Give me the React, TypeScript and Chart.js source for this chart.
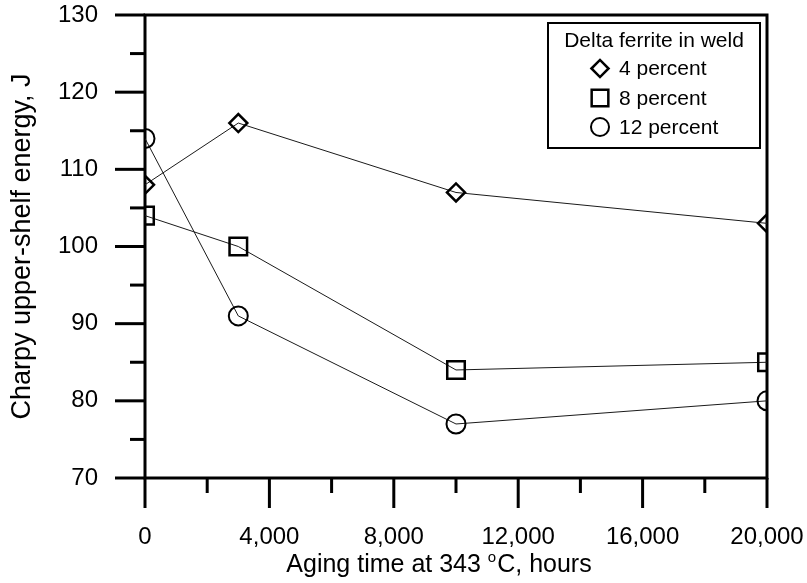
import React, { useEffect, useRef } from 'react';
import { Chart, registerables } from 'chart.js';

Chart.register(...registerables);

// Aging time (hours) and Charpy upper-shelf energy (J) per delta-ferrite level
const agingHours = [0, 3000, 10000, 20000];
const energy4 = [108, 116, 107, 103];
const energy8 = [104, 100, 84, 85];
const energy12 = [114, 91, 77, 80];
const seriesLabels = ['4 percent', '8 percent', '12 percent'];
const legendTitle = 'Delta ferrite in weld';

const xMajorTicks = [0, 4000, 8000, 12000, 16000, 20000];
const xTickLabels = ['0', '4,000', '8,000', '12,000', '16,000', '20,000'];
const xMinorTicks = [2000, 6000, 10000, 14000, 18000];
const yMajorTicks = [70, 80, 90, 100, 110, 120, 130];
const yMinorTicks = [75, 85, 95, 105, 115, 125];

const xTitleMain = 'Aging time at 343 ';
const xTitleSup = 'o';
const xTitleTail = 'C, hours';
const yTitle = 'Charpy upper-shelf energy, J';

const FONT = '"Liberation Sans", Arial, Helvetica, sans-serif';

function toPoints(values: number[]) {
  return agingHours.map((h, i) => ({ x: h, y: values[i] }));
}

function drawMarker(ctx: CanvasRenderingContext2D, style: string, cx: number, cy: number, r: number) {
  ctx.beginPath();
  if (style === 'rectRot') {
    ctx.moveTo(cx - r, cy);
    ctx.lineTo(cx, cy - r);
    ctx.lineTo(cx + r, cy);
    ctx.lineTo(cx, cy + r);
    ctx.closePath();
  } else if (style === 'rect') {
    const h = r * Math.SQRT1_2;
    ctx.rect(cx - h, cy - h, 2 * h, 2 * h);
  } else {
    ctx.arc(cx, cy, r, 0, Math.PI * 2);
  }
  ctx.stroke();
}

// Plot frame plus outward major/minor tick marks
const framePlugin = {
  id: 'frameAndTicks',
  beforeDatasetsDraw(chart: any) {
    const { ctx, chartArea } = chart;
    const { left, right, top, bottom } = chartArea;
    const x = chart.scales.x;
    const y = chart.scales.y;
    ctx.save();
    ctx.strokeStyle = '#000';
    ctx.lineCap = 'butt';
    ctx.lineWidth = 3;
    ctx.strokeRect(left, top, right - left, bottom - top);
    const seg = (x1: number, y1: number, x2: number, y2: number) => {
      ctx.beginPath();
      ctx.moveTo(x1, y1);
      ctx.lineTo(x2, y2);
      ctx.stroke();
    };
    yMajorTicks.forEach((v) => { const p = y.getPixelForValue(v); seg(left - 30, p, left, p); });
    yMinorTicks.forEach((v) => { const p = y.getPixelForValue(v); seg(left - 15, p, left, p); });
    xMajorTicks.forEach((v) => { const p = x.getPixelForValue(v); seg(p, bottom, p, bottom + 30); });
    xMinorTicks.forEach((v) => { const p = x.getPixelForValue(v); seg(p, bottom, p, bottom + 15); });
    ctx.restore();
  },
};

// Boxed legend inside the plot and the x-axis title with a raised "o"
const legendPlugin = {
  id: 'boxLegend',
  afterDraw(chart: any) {
    const { ctx, chartArea } = chart;
    const { left, right, top, bottom } = chartArea;
    ctx.save();
    ctx.strokeStyle = '#000';
    ctx.fillStyle = '#000';

    const boxLeft = right - 219;
    const boxTop = top + 8;
    const boxW = 212;
    const boxH = 125;
    ctx.lineWidth = 2;
    ctx.strokeRect(boxLeft, boxTop, boxW, boxH);

    ctx.font = `21px ${FONT}`;
    ctx.textBaseline = 'middle';
    ctx.textAlign = 'center';
    ctx.fillText(legendTitle, boxLeft + boxW / 2, boxTop + 18);

    const rows = [boxTop + 45.5, boxTop + 75, boxTop + 104];
    chart.data.datasets.forEach((ds: any, i: number) => {
      ctx.lineWidth = ds.pointBorderWidth;
      ctx.lineJoin = 'miter';
      drawMarker(ctx, ds.pointStyle, boxLeft + 52, rows[i], ds.pointRadius * 0.95);
      ctx.textAlign = 'left';
      ctx.fillText(ds.label, boxLeft + 71, rows[i] + 1);
    });

    // x-axis title
    const big = `25px ${FONT}`;
    const small = `15px ${FONT}`;
    ctx.textBaseline = 'alphabetic';
    ctx.textAlign = 'left';
    ctx.font = big;
    const w1 = ctx.measureText(xTitleMain).width;
    const w3 = ctx.measureText(xTitleTail).width;
    ctx.font = small;
    const w2 = ctx.measureText(xTitleSup).width + 1;
    const total = w1 + w2 + w3;
    const cx = (left + right) / 2 - 17;
    const base = bottom + 94;
    let tx = cx - total / 2;
    ctx.font = big;
    ctx.fillText(xTitleMain, tx, base);
    tx += w1;
    ctx.font = small;
    ctx.fillText(xTitleSup, tx, base - 10);
    tx += w2;
    ctx.font = big;
    ctx.fillText(xTitleTail, tx, base);
    ctx.restore();
  },
};

function clearScalePadding(scale: any) {
  scale.paddingTop = 0;
  scale.paddingBottom = 0;
  scale.paddingLeft = 0;
  scale.paddingRight = 0;
}

export default function App() {
  const canvasRef = useRef<HTMLCanvasElement | null>(null);

  useEffect(() => {
    if (!canvasRef.current) return;
    const lineColor = '#1a1a1a';
    const chart = new Chart(canvasRef.current, {
      type: 'line',
      data: {
        datasets: [
          {
            label: seriesLabels[0],
            data: toPoints(energy4),
            pointStyle: 'rectRot',
            pointRadius: 9,
            pointBorderWidth: 2.5,
          },
          {
            label: seriesLabels[1],
            data: toPoints(energy8),
            pointStyle: 'rect',
            pointRadius: 12.4,
            pointBorderWidth: 2.5,
          },
          {
            label: seriesLabels[2],
            data: toPoints(energy12),
            pointStyle: 'circle',
            pointRadius: 9.5,
            pointBorderWidth: 2,
          },
        ].map((d) => ({
          ...d,
          borderColor: lineColor,
          borderWidth: 1,
          pointBorderColor: '#000',
          pointBackgroundColor: 'rgba(0,0,0,0)',
          pointHoverRadius: d.pointRadius,
          tension: 0,
          fill: false,
        })) as any,
      },
      options: {
        animation: false,
        responsive: true,
        maintainAspectRatio: false,
        layout: { padding: { top: 15, right: 40, left: 0, bottom: 0 } },
        plugins: {
          legend: { display: false },
          tooltip: { enabled: false },
        },
        scales: {
          x: {
            type: 'linear',
            min: 0,
            max: 20000,
            grid: { display: false, drawTicks: false },
            border: { display: false },
            afterBuildTicks: (scale: any) => {
              scale.ticks = xMajorTicks.map((v) => ({ value: v }));
            },
            afterFit: (scale: any) => {
              scale.height = 105;
              clearScalePadding(scale);
            },
            ticks: {
              padding: 45,
              color: '#000',
              maxRotation: 0,
              autoSkip: false,
              font: { family: FONT, size: 24 },
              callback: (value: any) => {
                const i = xMajorTicks.indexOf(Number(value));
                return i >= 0 ? xTickLabels[i] : '';
              },
            },
          },
          y: {
            type: 'linear',
            min: 70,
            max: 130,
            grid: { display: false, drawTicks: false },
            border: { display: false },
            afterBuildTicks: (scale: any) => {
              scale.ticks = yMajorTicks.map((v) => ({ value: v }));
            },
            afterFit: (scale: any) => {
              scale.width = 145;
              clearScalePadding(scale);
            },
            ticks: {
              padding: 47,
              color: '#000',
              font: { family: FONT, size: 24 },
            },
            title: {
              display: true,
              text: yTitle,
              color: '#000',
              font: { family: FONT, size: 27, weight: 'normal' },
              padding: { top: 6, bottom: 0 },
            },
          },
        },
      },
      plugins: [framePlugin, legendPlugin],
    });
    return () => chart.destroy();
  }, []);

  return (
    <div style={{ position: 'fixed', left: 0, top: 0, width: 807, height: 583, background: '#fff' }}>
      <canvas ref={canvasRef} />
    </div>
  );
}
